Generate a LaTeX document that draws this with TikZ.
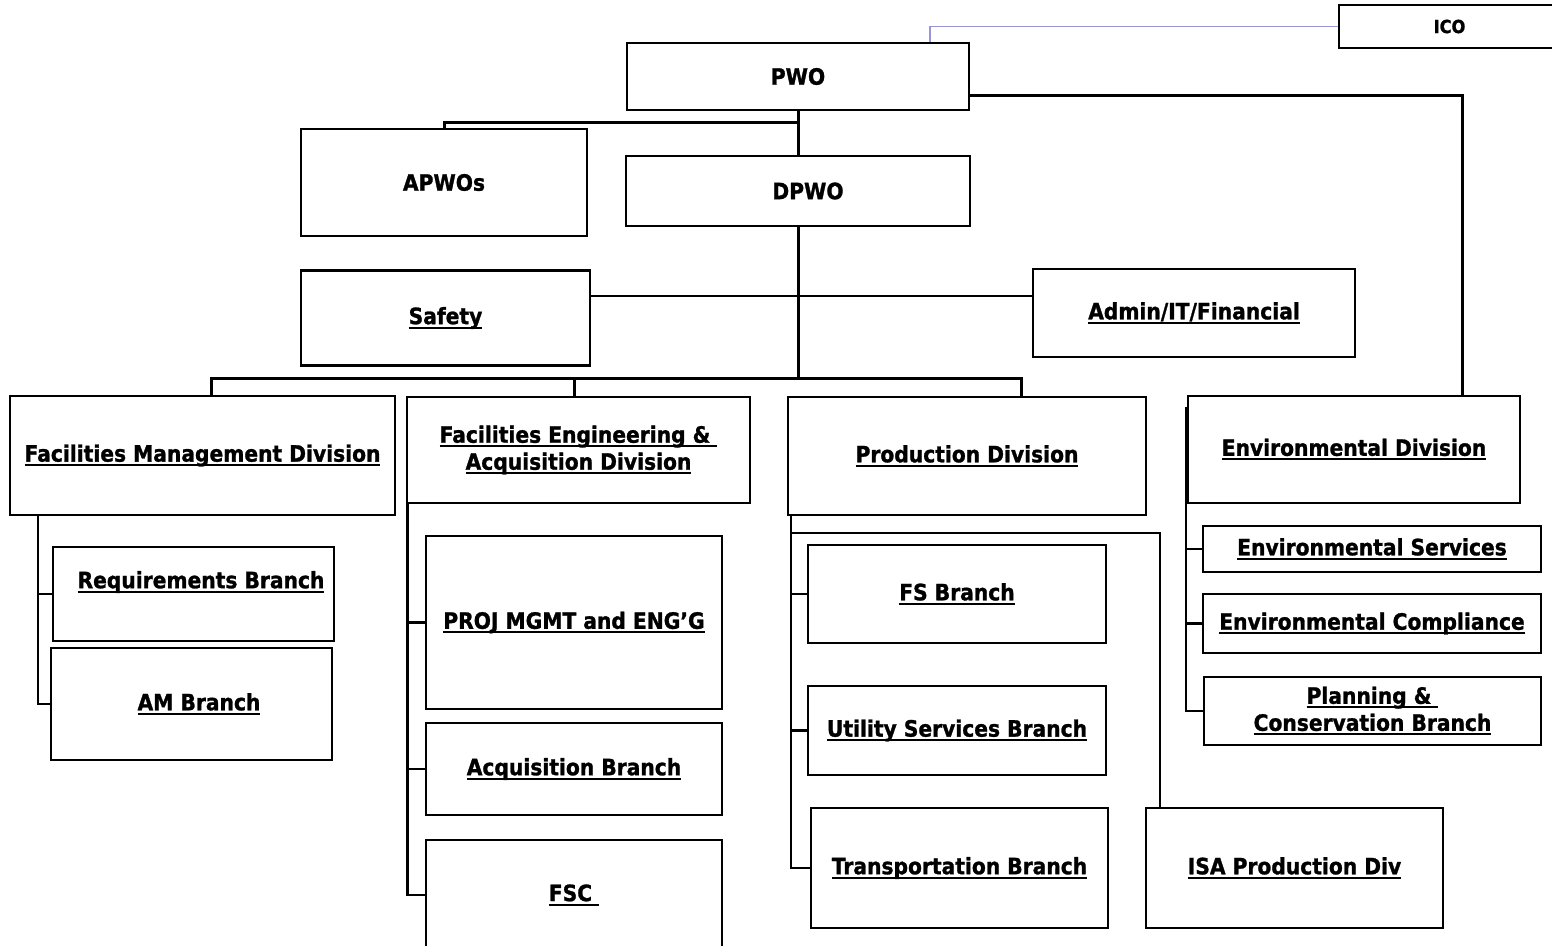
\documentclass[tikz,border=0pt]{standalone}
\usepackage{fontspec}
\setmainfont{DejaVu Sans}[FakeStretch=0.9, FakeBold=1.2]
\usetikzlibrary{backgrounds}

\definecolor{icoline}{RGB}{150,150,215}
% underlined label text, rule crossing the descenders
\newcommand{\ulin}[1]{\setbox0\hbox{#1}\rlap{\rule[-4.5pt]{\wd0}{2pt}}\box0}

\begin{document}
\begin{tikzpicture}[x=1pt,y=-1pt,
    txt/.style={align=center, font=\fontsize{22.5}{27}\selectfont\bfseries},
    box/.style={txt, draw, fill=white, line width=2.2pt, inner sep=0pt},
    link/.style={line width=2.2pt},
    trunk/.style={line width=3pt}]
  \useasboundingbox (0,0) rectangle (1552,945);

  % top of the chart
  \node[box, minimum width=221, minimum height=43,
        font=\fontsize{18}{20}\selectfont\bfseries] (ico) at (1449.5,26.5) {ICO};
  \node[box, minimum width=342, minimum height=67] (pwo) at (798,76.5) {PWO};
  \node[box, minimum width=286, minimum height=107] (apwos) at (444,182.5) {APWOs};
  \node[box, minimum width=344, minimum height=70] (dpwo) at (798,191) {\hspace*{20pt}DPWO};
  \node[box, minimum width=289, minimum height=95] (safety) at (445.5,318) {\ulin{Safety}};
  \node[box, minimum width=322, minimum height=88] (admin) at (1194,313) {\ulin{Admin/IT/Financial}};

  % divisions
  \node[box, minimum width=385, minimum height=119] (fmd) at (202.5,455.5)
    {\ulin{Facilities Management Division}};
  \node[box, minimum width=343, minimum height=106] (fead) at (578.5,450)
    {\ulin{Facilities Engineering \& }\\\ulin{Acquisition Division}};
  \node[box, minimum width=358, minimum height=118] (prod) at (967,456) {\ulin{Production Division}};
  \node[box, minimum width=332, minimum height=107] (envdiv) at (1354,449.5) {\ulin{Environmental Division}};

  % branches
  \node[box, minimum width=281, minimum height=94,
        label={[txt, xshift=7.5, yshift=12]center:\ulin{Requirements Branch}}] (req) at (193.5,594) {};
  \node[box, minimum width=281, minimum height=112] (am) at (191.5,704) {\hspace*{15pt}\ulin{AM Branch}};
  \node[box, minimum width=296, minimum height=173] (proj) at (574,622.5) {\ulin{PROJ MGMT and ENG’G}};
  \node[box, minimum width=296, minimum height=92] (acq) at (574,769) {\ulin{Acquisition Branch}};
  \node[box, minimum width=296, minimum height=110] (fsc) at (574,895) {\ulin{FSC }};
  \node[box, minimum width=298, minimum height=98] (fs) at (957,594) {\ulin{FS Branch}};
  \node[box, minimum width=298, minimum height=89] (util) at (957,730.5) {\ulin{Utility Services Branch}};
  \node[box, minimum width=297, minimum height=120] (trans) at (959.5,868) {\ulin{Transportation Branch}};
  \node[box, minimum width=297, minimum height=120] (isa) at (1294.5,868) {\ulin{ISA Production Div}};
  \node[box, minimum width=338, minimum height=46] (envsvc) at (1372,549) {\ulin{Environmental Services}};
  \node[box, minimum width=338, minimum height=59] (envcomp) at (1372,623.5) {\ulin{Environmental Compliance}};
  \node[box, minimum width=337, minimum height=68] (plan) at (1372.5,711)
    {\ulin{Planning \& }\\\ulin{Conservation Branch}};

  \begin{scope}[on background layer]
    % reporting lines
    \coordinate (busy) at (0,378);
    \coordinate (bus) at (pwo.south |- busy);
    \coordinate (apbar) at (798,122);
    \draw[icoline, line width=1.4pt] (ico.west) -| ([xshift=132]pwo.north);
    \draw[trunk] ([yshift=-18.5]pwo.east) -| ([xshift=108]envdiv.north);
    \draw[trunk] (pwo.south) -- (bus);
    \draw[trunk] (apwos.north) |- (apbar);
    \draw[link] ([yshift=22]safety.east) -- ([yshift=22]safety.east -| admin.west);
    \draw[trunk] ([xshift=8.5]fmd.north) |- (bus) -| ([xshift=54]prod.north);
    \draw[trunk] ([xshift=-4.5]fead.north) -- ([xshift=-4.5]fead.north |- bus);

    % branch spines
    \coordinate (fmdspine) at ([xshift=-164.5]fmd.south);
    \draw[link] (fmdspine) |- (am.west);
    \draw[link] (req.west) -- (req.west -| fmdspine);
    \coordinate (feadspine) at ([xshift=1.5]fead.south west);
    \draw[link] (feadspine) |- (fsc.west);
    \draw[link] (proj.west) -- (proj.west -| feadspine);
    \draw[link] (acq.west) -- (acq.west -| feadspine);
    \coordinate (prodspine) at ([xshift=4]prod.south west);
    \draw[link] (prodspine) |- (trans.west);
    \draw[link] (fs.west) -- (fs.west -| prodspine);
    \draw[link] (util.west) -- (util.west -| prodspine);
    \draw[link] ([yshift=-17]prodspine) -| ([xshift=15]isa.north west);
    \coordinate (envspine) at ([xshift=-1,yshift=-12]envdiv.north west);
    \draw[link] (envspine) |- (plan.west);
    \draw[link] (envsvc.west) -- (envsvc.west -| envspine);
    \draw[link] (envcomp.west) -- (envcomp.west -| envspine);
  \end{scope}
\end{tikzpicture}
\end{document}
